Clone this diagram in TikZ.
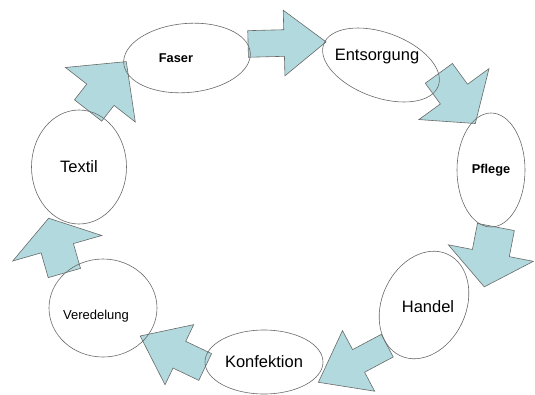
\documentclass[tikz,border=0pt]{standalone}
\usepackage{fontspec}
\setmainfont{Liberation Sans}
\usepackage{tikz}
\usetikzlibrary{shapes,arrows,backgrounds}
\definecolor{flowblue}{RGB}{178,218,222}
\definecolor{rimgray}{RGB}{105,105,105}

\begin{document}
\begin{tikzpicture}[x=1pt,y=-1pt]
     \tikzstyle{every node}=[font=\fontsize{16.5}{18}\selectfont]
     \tikzstyle{small}=[font=\fontsize{13}{15}\selectfont]
     \tikzstyle{smallbold}=[font=\fontsize{12.8}{15}\selectfont\bfseries]
     \tikzstyle{stage}=[ellipse, draw=rimgray, line width=0.6pt, inner sep=0pt]
     \tikzstyle{flow}=[single arrow, draw=rimgray, fill=flowblue, line width=0.6pt, inner xsep=0pt, anchor=tail]
      \useasboundingbox (0,0) rectangle (535,394);
      \node[stage, minimum width=127pt, minimum height=69pt, rotate=5,
            label={[smallbold,xshift=-11pt]center:Faser}] (Faser) at (187,58) {};
      \node[stage, minimum width=122pt, minimum height=65pt, rotate=-20,
            label={[xshift=-4pt,yshift=8pt]center:Entsorgung}] (Entsorgung) at (381,65) {};
      \node[stage, smallbold, minimum width=68pt, minimum height=114pt] (Pflege) at (491,170) {Pflege};
      \node[stage, minimum width=84pt, minimum height=112pt, rotate=-25,
            label={[xshift=4pt,yshift=-2pt]center:Handel}] (Handel) at (424,305) {};
      \node[stage, minimum width=118pt, minimum height=64pt] (Konfektion) at (264,362) {Konfektion};
      \node[stage, minimum width=108pt, minimum height=98pt,
            label={[small,xshift=-7pt,yshift=-8pt]center:Veredelung}] (Veredelung) at (103,308) {};
      \node[stage, minimum width=95pt, minimum height=114pt] (Textil) at (79,167) {Textil};
      \begin{pgfonlayer}{background}
      \node[flow, rotate=52, minimum height=62pt, inner ysep=17pt, single arrow head extend=27pt, single arrow tip angle=93] (TextilFaser) at (Textil.81) {};
      \node[flow, rotate=1.5, minimum height=78pt, inner ysep=13pt, single arrow head extend=19.5pt, single arrow tip angle=76] (FaserEntsorgung) at (Faser.8) {};
      \node[flow, rotate=-54, minimum height=62pt, inner ysep=16.5pt, single arrow head extend=26.5pt, single arrow tip angle=100] (EntsorgungPflege) at (Entsorgung.12) {};
      \node[flow, rotate=-101, minimum height=61pt, inner ysep=18.5pt, single arrow head extend=24.5pt, single arrow tip angle=103] (PflegeHandel) at (Pflege.-85) {};
      \node[flow, rotate=208, minimum height=78pt, inner ysep=12.5pt, single arrow head extend=21.5pt, single arrow tip angle=74] (HandelKonfektion) at (Handel.-107) {};
      \node[flow, rotate=154.5, minimum height=72pt, inner ysep=14.5pt, single arrow head extend=18.5pt, single arrow tip angle=75] (KonfektionVeredelung) at (Konfektion.185) {};
      \node[flow, rotate=106, minimum height=57pt, inner ysep=16.5pt, single arrow head extend=29.5pt, single arrow tip angle=112] (VeredelungTextil) at (Veredelung.138) {};
      \end{pgfonlayer}
    \end{tikzpicture}
\end{document}
